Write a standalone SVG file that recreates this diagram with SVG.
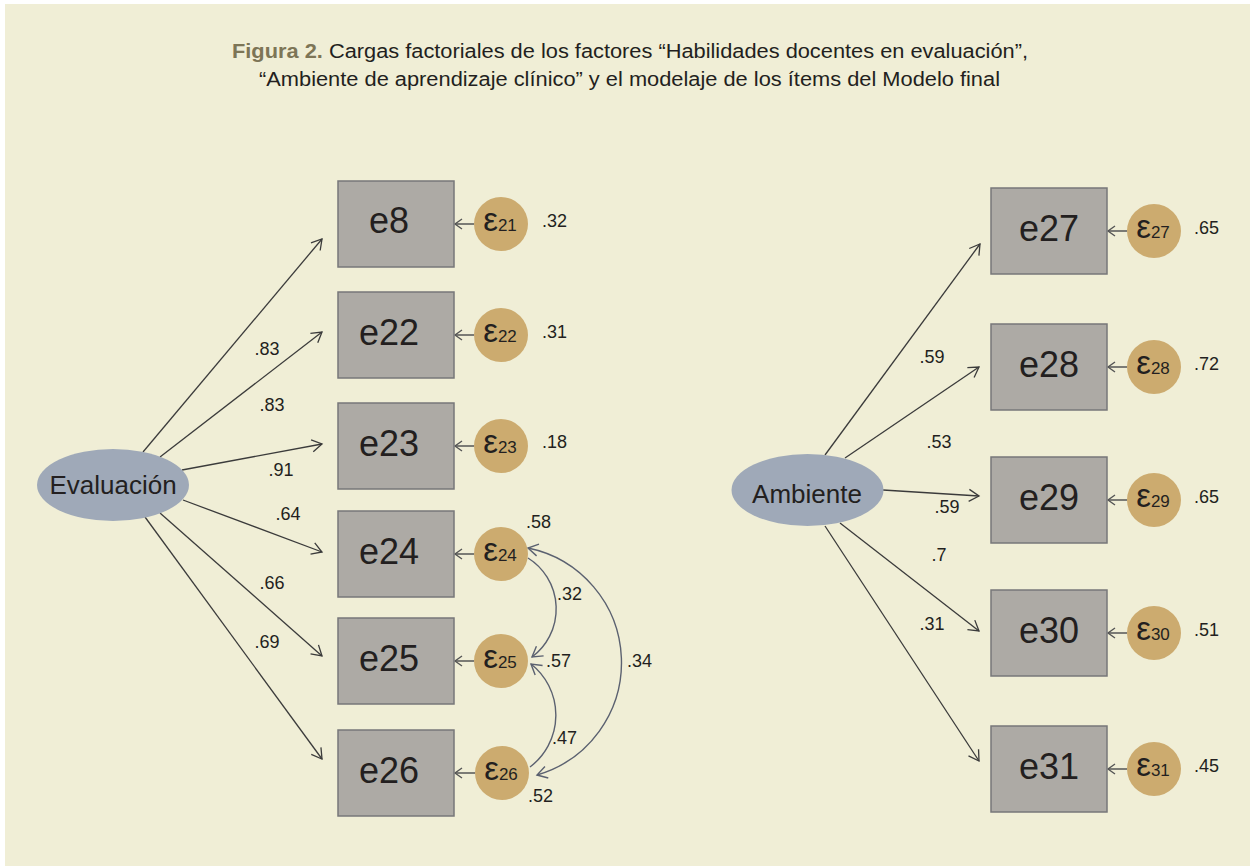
<svg xmlns="http://www.w3.org/2000/svg" width="1250" height="867" viewBox="0 0 1250 867">
<defs>
<style>
.t{font-family:"Liberation Sans",Arial,sans-serif;fill:#231f20}
.title{font-size:19.5px}
.fig{font-weight:bold;fill:#7d7556}
.box{fill:#adaaa5;stroke:#77777a;stroke-width:1.5}
.bl{font-size:36px;text-anchor:middle}
.err{fill:#ccab6f}
.eps{font-size:33px;text-anchor:middle}
.sub{font-size:17px}
.num{font-size:18px}
.nm{font-size:18px;text-anchor:middle}
.lat{fill:#9fa9b8}
.ll{font-size:26px;text-anchor:middle}
.load{stroke:#3b3b3b;stroke-width:1.3;fill:none;marker-end:url(#ah)}
.earr{stroke:#555;stroke-width:1.5;fill:none;marker-end:url(#ahs)}
.cov{stroke:#5b6170;stroke-width:1.4;fill:none}
</style>
<marker id="ah" viewBox="0 0 10 12" refX="10" refY="6" markerWidth="10" markerHeight="12" markerUnits="userSpaceOnUse" orient="auto" style="overflow:visible">
<path d="M0,0 L10,6 L0,12" fill="none" stroke="#3b3b3b" stroke-width="1.3"/>
</marker>
<marker id="ahc" viewBox="0 0 10 12" refX="10" refY="6" markerWidth="10" markerHeight="12" markerUnits="userSpaceOnUse" orient="auto-start-reverse" style="overflow:visible">
<path d="M0,0 L10,6 L0,12" fill="none" stroke="#5b6170" stroke-width="1.4"/>
</marker>
<marker id="ahs" viewBox="0 0 7 10" refX="7" refY="5" markerWidth="7" markerHeight="10" markerUnits="userSpaceOnUse" orient="auto" style="overflow:visible">
<path d="M0,0 L7,5 L0,10" fill="none" stroke="#555" stroke-width="1.4"/>
</marker>
</defs>
<rect x="0" y="0" width="1250" height="867" fill="#ffffff"/>
<rect x="5" y="4" width="1245" height="862" fill="#f0eed6"/>
<g id="title">
<text class="t title" x="232" y="58" textLength="796" lengthAdjust="spacingAndGlyphs"><tspan class="fig">Figura 2.</tspan> Cargas factoriales de los factores “Habilidades docentes en evaluación”,</text>
<text class="t title" x="259" y="86" textLength="741" lengthAdjust="spacingAndGlyphs">“Ambiente de aprendizaje clínico” y el modelaje de los ítems del Modelo final</text>
</g>
<g id="connectors">
<line class="load" x1="143" y1="452" x2="322" y2="239"/>
<line class="load" x1="160" y1="457" x2="322" y2="332"/>
<line class="load" x1="182" y1="470" x2="322" y2="444"/>
<line class="load" x1="183" y1="500" x2="322" y2="552"/>
<line class="load" x1="160" y1="513" x2="322" y2="656"/>
<line class="load" x1="145" y1="517" x2="322" y2="759"/>
<line class="load" x1="825" y1="455" x2="980" y2="244"/>
<line class="load" x1="845" y1="458" x2="979" y2="367"/>
<line class="load" x1="883" y1="490" x2="979" y2="496"/>
<line class="load" x1="840" y1="523" x2="979" y2="631"/>
<line class="load" x1="825" y1="526" x2="979" y2="761"/>
<line class="earr" x1="474" y1="224" x2="455" y2="224"/>
<line class="earr" x1="474" y1="335" x2="455" y2="335"/>
<line class="earr" x1="474" y1="446" x2="455" y2="446"/>
<line class="earr" x1="474" y1="554" x2="455" y2="554"/>
<line class="earr" x1="474" y1="661" x2="455" y2="661"/>
<line class="earr" x1="475" y1="773" x2="455" y2="773"/>
<line class="earr" x1="1127" y1="231" x2="1108" y2="231"/>
<line class="earr" x1="1127" y1="367" x2="1108" y2="367"/>
<line class="earr" x1="1127" y1="500" x2="1108" y2="500"/>
<line class="earr" x1="1127" y1="633" x2="1108" y2="633"/>
<line class="earr" x1="1127" y1="769" x2="1108" y2="769"/>
<path class="cov" d="M528,558 A60,60 0 0 1 532,657" marker-end="url(#ahc)"/>
<path class="cov" d="M530,767 A65,65 0 0 0 531,664" marker-end="url(#ahc)"/>
<path class="cov" d="M528,548 A117,117 0 0 1 537,775" marker-start="url(#ahc)" marker-end="url(#ahc)"/>
<g class="t">
<text class="nm" x="267" y="355">.83</text>
<text class="nm" x="272" y="411">.83</text>
<text class="nm" x="281" y="476">.91</text>
<text class="nm" x="288" y="520">.64</text>
<text class="nm" x="272" y="589">.66</text>
<text class="nm" x="267" y="648">.69</text>
<text class="nm" x="932" y="363">.59</text>
<text class="nm" x="939" y="448">.53</text>
<text class="nm" x="947" y="513">.59</text>
<text class="nm" x="939" y="561">.7</text>
<text class="nm" x="932" y="630">.31</text>
<text class="num" x="557" y="600">.32</text>
<text class="num" x="546" y="667">.57</text>
<text class="num" x="627" y="667">.34</text>
<text class="num" x="552" y="744">.47</text>
</g>
</g>
<g id="Evaluacion">
<ellipse class="lat" cx="113" cy="485" rx="76" ry="36"/>
<text class="t ll" x="113" y="494">Evaluación</text>
</g>
<g id="Ambiente">
<ellipse class="lat" cx="807.5" cy="490" rx="76" ry="36"/>
<text class="t ll" x="807" y="503">Ambiente</text>
</g>
<g id="e8"><rect class="box" x="338" y="181" width="116" height="86"/><text class="t bl" x="389" y="233">e8</text></g>
<g id="e22"><rect class="box" x="338" y="292" width="116" height="86"/><text class="t bl" x="389" y="345">e22</text></g>
<g id="e23"><rect class="box" x="338" y="403" width="116" height="86"/><text class="t bl" x="389" y="456">e23</text></g>
<g id="e24"><rect class="box" x="338" y="511" width="116" height="86"/><text class="t bl" x="389" y="564">e24</text></g>
<g id="e25"><rect class="box" x="338" y="618" width="116" height="86"/><text class="t bl" x="389" y="671">e25</text></g>
<g id="e26"><rect class="box" x="338" y="730" width="116" height="86"/><text class="t bl" x="389" y="783">e26</text></g>
<g id="e27"><rect class="box" x="991" y="188" width="116" height="86"/><text class="t bl" x="1049" y="241">e27</text></g>
<g id="e28"><rect class="box" x="991" y="324" width="116" height="86"/><text class="t bl" x="1049" y="377">e28</text></g>
<g id="e29"><rect class="box" x="991" y="457" width="116" height="86"/><text class="t bl" x="1049" y="510">e29</text></g>
<g id="e30"><rect class="box" x="991" y="590" width="116" height="86"/><text class="t bl" x="1049" y="643">e30</text></g>
<g id="e31"><rect class="box" x="991" y="726" width="116" height="86"/><text class="t bl" x="1049" y="779">e31</text></g>
<g id="eps21"><circle class="err" cx="501" cy="224" r="27"/><text class="t eps" x="500" y="231">ε<tspan class="sub">21</tspan></text><text class="t num" x="542" y="227">.32</text></g>
<g id="eps22"><circle class="err" cx="501" cy="335" r="27"/><text class="t eps" x="500" y="342">ε<tspan class="sub">22</tspan></text><text class="t num" x="542" y="338">.31</text></g>
<g id="eps23"><circle class="err" cx="501" cy="446" r="27"/><text class="t eps" x="500" y="453">ε<tspan class="sub">23</tspan></text><text class="t num" x="542" y="448">.18</text></g>
<g id="eps24"><circle class="err" cx="501" cy="554" r="27"/><text class="t eps" x="500" y="561">ε<tspan class="sub">24</tspan></text><text class="t num" x="526" y="528">.58</text></g>
<g id="eps25"><circle class="err" cx="501" cy="661" r="27"/><text class="t eps" x="500" y="668">ε<tspan class="sub">25</tspan></text></g>
<g id="eps26"><circle class="err" cx="502" cy="773" r="27"/><text class="t eps" x="501" y="780">ε<tspan class="sub">26</tspan></text><text class="t num" x="528" y="802">.52</text></g>
<g id="eps27"><circle class="err" cx="1154" cy="231" r="27"/><text class="t eps" x="1153" y="238">ε<tspan class="sub">27</tspan></text><text class="t num" x="1194" y="234">.65</text></g>
<g id="eps28"><circle class="err" cx="1154" cy="367" r="27"/><text class="t eps" x="1153" y="374">ε<tspan class="sub">28</tspan></text><text class="t num" x="1194" y="370">.72</text></g>
<g id="eps29"><circle class="err" cx="1154" cy="500" r="27"/><text class="t eps" x="1153" y="507">ε<tspan class="sub">29</tspan></text><text class="t num" x="1194" y="503">.65</text></g>
<g id="eps30"><circle class="err" cx="1154" cy="633" r="27"/><text class="t eps" x="1153" y="640">ε<tspan class="sub">30</tspan></text><text class="t num" x="1194" y="636">.51</text></g>
<g id="eps31"><circle class="err" cx="1154" cy="769" r="27"/><text class="t eps" x="1153" y="776">ε<tspan class="sub">31</tspan></text><text class="t num" x="1194" y="772">.45</text></g>
</svg>
